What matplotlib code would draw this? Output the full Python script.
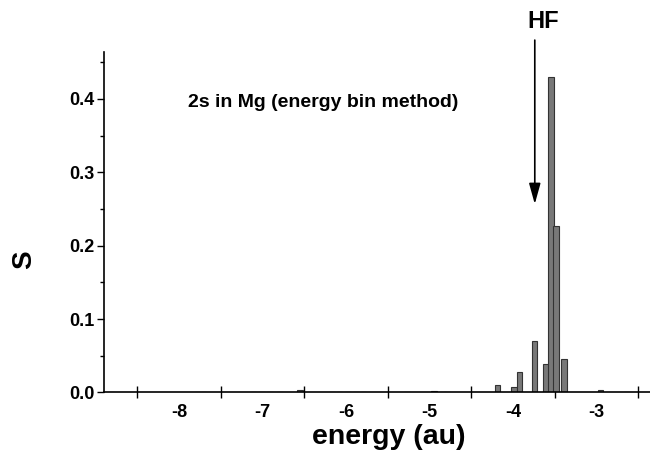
import matplotlib
matplotlib.use("Agg")
import matplotlib.pyplot as plt
from matplotlib.ticker import MultipleLocator, FixedLocator

plt.rcParams['font.family'] = ['Liberation Sans', 'DejaVu Sans']

energy = [-8.81, -7.78, -7.71, -7.11, -7.01, -6.91, -6.79, -6.55,
          -6.17, -6.08, -5.98, -5.88, -5.79, -5.27, -4.95, -4.84, -4.79,
          -4.186, -3.986, -3.926, -3.746, -3.605, -3.546, -3.486, -3.39,
          -2.95, -2.64]
S = [0.001, 0.001, 0.001, 0.001, 0.001, 0.001, 0.001, 0.003,
     0.001, 0.001, 0.001, 0.001, 0.001, 0.001, 0.002, 0.001, 0.001,
     0.0105, 0.007, 0.028, 0.070, 0.039, 0.430, 0.227, 0.046,
     0.004, 0.001]
xtick_vals = [-8, -7, -6, -5, -4, -3]
ytick_vals = [0.0, 0.1, 0.2, 0.3, 0.4]
hf_energy = -3.74

fig = plt.figure(figsize=(6.5, 4.53), dpi=100)
ax = fig.add_axes([0.16, 0.1336, 0.84, 0.7516])
ax.bar(energy, S, width=0.066, color='#787878', edgecolor='#333333', linewidth=0.8, zorder=2)

ax.set_xlim(-8.90, -2.36)
ax.set_ylim(0, 0.464)
ax.spines['top'].set_visible(False)
ax.spines['right'].set_visible(False)
for s in ('left', 'bottom'):
    ax.spines[s].set_linewidth(1.2)
    ax.spines[s].set_zorder(3)

ax.xaxis.set_major_locator(FixedLocator(xtick_vals))
ax.set_xticklabels([str(v) for v in xtick_vals])
ax.xaxis.set_minor_locator(FixedLocator([v + 0.5 for v in [-9] + xtick_vals]))
ax.tick_params(axis='x', which='major', length=0, pad=8)
ax.tick_params(axis='x', which='minor', direction='inout', length=8, width=1)
ax.yaxis.set_major_locator(FixedLocator(ytick_vals))
ax.set_yticklabels([f"{v:.1f}" for v in ytick_vals])
ax.yaxis.set_minor_locator(MultipleLocator(0.05))
ax.tick_params(axis='y', which='major', direction='out', length=5, width=1, pad=2)
ax.tick_params(axis='y', which='minor', direction='out', length=3, width=1)
for lab in ax.get_xticklabels() + ax.get_yticklabels():
    lab.set_fontweight('bold')
    lab.set_fontsize(13)

ax.set_xlabel('energy (au)', fontsize=20.5, fontweight='bold')
ax.xaxis.set_label_coords(0.522, -0.093)
ax.set_ylabel('S', fontsize=20, fontweight='bold')
ax.yaxis.set_label_coords(-0.123, 0.389)

ax.text(0.154, 0.853, '2s in Mg (energy bin method)', transform=ax.transAxes,
        fontsize=14, fontweight='bold', ha='left', va='center')

ax.annotate('', xy=(hf_energy, 0.253), xytext=(hf_energy, 0.484),
            arrowprops=dict(arrowstyle='-|>,head_length=0.9,head_width=0.25',
                            color='black', lw=1.2, mutation_scale=14),
            annotation_clip=False)
ax.text(hf_energy + 0.1, 0.506, 'HF', fontsize=17, fontweight='bold', ha='center', va='center')

fig.savefig('out.png', dpi=100)
